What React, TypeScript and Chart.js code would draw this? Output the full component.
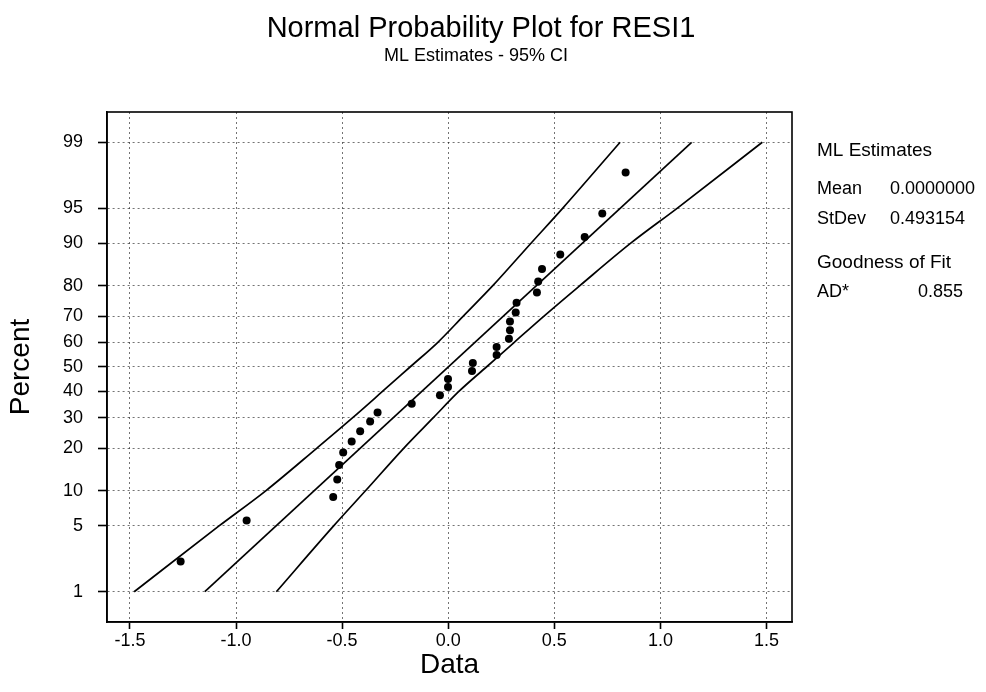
import React, { useEffect, useRef } from 'react';
import { Chart, registerables, Scale } from 'chart.js';

Chart.register(...registerables);

// ---------- data ----------
const PERCENT_TICKS = [1, 5, 10, 20, 30, 40, 50, 60, 70, 80, 90, 95, 99];
const DATA_TICKS = [-1.5, -1.0, -0.5, 0.0, 0.5, 1.0, 1.5];

const RESIDUALS = [
  -1.261, -0.95, -0.542, -0.523, -0.514, -0.495, -0.455, -0.415, -0.368, -0.333,
  -0.172, -0.039, -0.001, -0.001, 0.112, 0.116, 0.228, 0.228, 0.286, 0.291,
  0.291, 0.318, 0.322, 0.418, 0.424, 0.442, 0.528, 0.643, 0.726, 0.836,
];
const PLOT_PERCENT = [
  2.2, 5.6, 8.9, 12.2, 15.5, 18.8, 22.0, 25.3, 28.6, 31.9,
  35.2, 38.5, 41.8, 45.1, 48.4, 51.6, 54.9, 58.2, 61.5, 64.8,
  68.1, 71.4, 74.7, 78.0, 81.2, 84.5, 87.8, 91.1, 94.4, 97.8,
];

const BAND_PERCENT = [1, 5, 10, 20, 30, 40, 50, 60, 70, 80, 90, 95, 99];
const LOWER_CI = [-1.48, -1.08, -0.86, -0.62, -0.45, -0.31, -0.18, -0.05, 0.07, 0.21, 0.39, 0.54, 0.81];
const UPPER_CI = [-0.81, -0.54, -0.39, -0.21, -0.07, 0.05, 0.18, 0.31, 0.45, 0.62, 0.86, 1.08, 1.48];
const FIT_PERCENT = [1, 99];
const FIT_DATA = [-1.147, 1.147];

const TITLE = 'Normal Probability Plot for RESI1';
const SUBTITLE = 'ML Estimates - 95% CI';
const PANEL_HEAD_1 = 'ML Estimates';
const PANEL_LABELS_1 = ['Mean', 'StDev'];
const PANEL_VALUES_1 = ['0.0000000', '0.493154'];
const PANEL_HEAD_2 = 'Goodness of Fit';
const PANEL_LABELS_2 = ['AD*'];
const PANEL_VALUES_2 = ['0.855'];

const FONT = '"Liberation Sans", Arial, Helvetica, sans-serif';

// ---------- normal probability scale ----------
function normInv(pIn: number): number {
  const p = Math.min(Math.max(pIn, 1e-9), 1 - 1e-9);
  const a = [-3.969683028665376e1, 2.209460984245205e2, -2.759285104469687e2, 1.38357751867269e2, -3.066479806614716e1, 2.506628277459239];
  const b = [-5.447609879822406e1, 1.615858368580409e2, -1.556989798598866e2, 6.680131188771972e1, -1.328068155288572e1];
  const c = [-7.784894002430293e-3, -3.223964580411365e-1, -2.400758277161838, -2.549732539343734, 4.374664141464968, 2.938163982698783];
  const d = [7.784695709041462e-3, 3.224671290700398e-1, 2.445134137142996, 3.754408661907416];
  const pl = 0.02425;
  if (p < pl) {
    const q = Math.sqrt(-2 * Math.log(p));
    return (((((c[0] * q + c[1]) * q + c[2]) * q + c[3]) * q + c[4]) * q + c[5]) / ((((d[0] * q + d[1]) * q + d[2]) * q + d[3]) * q + 1);
  }
  if (p > 1 - pl) {
    const q = Math.sqrt(-2 * Math.log(1 - p));
    return -(((((c[0] * q + c[1]) * q + c[2]) * q + c[3]) * q + c[4]) * q + c[5]) / ((((d[0] * q + d[1]) * q + d[2]) * q + d[3]) * q + 1);
  }
  const q = p - 0.5;
  const r = q * q;
  return ((((((a[0] * r + a[1]) * r + a[2]) * r + a[3]) * r + a[4]) * r + a[5]) * q) / (((((b[0] * r + b[1]) * r + b[2]) * r + b[3]) * r + b[4]) * r + 1);
}

function normCdf(z: number): number {
  const t = 1 / (1 + 0.3275911 * Math.abs(z) / Math.SQRT2);
  const y = 1 - (((((1.061405429 * t - 1.453152027) * t) + 1.421413741) * t - 0.284496736) * t + 0.254829592) * t * Math.exp(-(z * z) / 2);
  return z >= 0 ? 0.5 * (1 + y) : 0.5 * (1 - y);
}

class ProbitScale extends (Scale as any) {
  static id = 'probit';
  static defaults = {};
  _zStart = 0;
  _zEnd = 1;
  determineDataLimits() {
    this.min = this.options.min;
    this.max = this.options.max;
  }
  buildTicks() {
    return PERCENT_TICKS.map((v) => ({ value: v }));
  }
  configure() {
    super.configure();
    this._zStart = normInv(this.min / 100);
    this._zEnd = normInv(this.max / 100);
  }
  getLabelForValue(v: number) {
    return String(v);
  }
  getPixelForValue(v: number) {
    if (v === null || v === undefined || isNaN(v)) return NaN;
    const z = normInv(v / 100);
    return this.getPixelForDecimal((z - this._zStart) / (this._zEnd - this._zStart));
  }
  getValueForPixel(px: number) {
    const dec = this.getDecimalForPixel(px);
    return normCdf(this._zStart + dec * (this._zEnd - this._zStart)) * 100;
  }
}
Chart.register(ProbitScale as any);

// ---------- frame and texts ----------
const decorPlugin = {
  id: 'decor',
  afterDraw(chart: any) {
    const { ctx, chartArea: a } = chart;
    ctx.save();
    ctx.strokeStyle = '#000';
    ctx.lineWidth = 1.6;
    ctx.strokeRect(a.left, a.top, a.right - a.left, a.bottom - a.top);

    ctx.fillStyle = '#000';
    ctx.textBaseline = 'alphabetic';
    ctx.textAlign = 'center';
    ctx.font = `29px ${FONT}`;
    ctx.fillText(TITLE, 481, 37);
    ctx.font = `18px ${FONT}`;
    ctx.fillText(SUBTITLE, 476, 61);

    ctx.textAlign = 'left';
    ctx.font = `19px ${FONT}`;
    ctx.fillText(PANEL_HEAD_1, 817, 156);
    ctx.font = `18px ${FONT}`;
    const rows1 = [194, 224];
    PANEL_LABELS_1.forEach((l, i) => {
      ctx.fillText(l, 817, rows1[i]);
      ctx.fillText(PANEL_VALUES_1[i], 890, rows1[i]);
    });
    ctx.font = `19px ${FONT}`;
    ctx.fillText(PANEL_HEAD_2, 817, 268);
    ctx.font = `18px ${FONT}`;
    PANEL_LABELS_2.forEach((l, i) => {
      ctx.fillText(l, 817, 297 + i * 30);
      ctx.fillText(PANEL_VALUES_2[i], 918, 297 + i * 30);
    });
    ctx.restore();
  },
};

export default function App() {
  const ref = useRef<HTMLCanvasElement>(null);

  useEffect(() => {
    Chart.defaults.font.family = FONT;
    const gridCommon = {
      color: 'rgba(0,0,0,0.55)',
      lineWidth: 1,
      tickColor: '#000',
      tickWidth: 1.6,
      tickBorderDash: [],
    };
    const chart = new Chart(ref.current as HTMLCanvasElement, {
      type: 'scatter',
      data: {
        datasets: [
          {
            label: 'RESI1',
            data: RESIDUALS.map((x, i) => ({ x, y: PLOT_PERCENT[i] })),
            pointRadius: 4,
            pointStyle: 'circle',
            backgroundColor: '#000',
            borderColor: '#000',
            borderWidth: 0,
          },
          {
            label: 'Fit',
            data: FIT_DATA.map((x, i) => ({ x, y: FIT_PERCENT[i] })),
            showLine: true,
            pointRadius: 0,
            borderColor: '#000',
            borderWidth: 1.7,
          },
          {
            label: 'Lower CI',
            data: LOWER_CI.map((x, i) => ({ x, y: BAND_PERCENT[i] })),
            showLine: true,
            pointRadius: 0,
            borderColor: '#000',
            borderWidth: 1.7,
            cubicInterpolationMode: 'monotone',
          },
          {
            label: 'Upper CI',
            data: UPPER_CI.map((x, i) => ({ x, y: BAND_PERCENT[i] })),
            showLine: true,
            pointRadius: 0,
            borderColor: '#000',
            borderWidth: 1.7,
            cubicInterpolationMode: 'monotone',
          },
        ],
      } as any,
      options: {
        responsive: false,
        animation: false,
        devicePixelRatio: 1,
        events: [],
        layout: { padding: { top: 112, right: 194, bottom: 0, left: 0 } },
        plugins: {
          legend: { display: false },
          tooltip: { enabled: false },
          title: { display: false },
        },
        scales: {
          x: {
            type: 'linear',
            position: 'bottom',
            bounds: 'data',
            min: -1.608,
            max: 1.62,
            afterBuildTicks: (s: any) => {
              s.ticks = DATA_TICKS.map((v) => ({ value: v }));
            },
            afterFit: (s: any) => {
              s.height = 70;
            },
            ticks: {
              callback: (v: any) => Number(v).toFixed(1),
              font: { size: 18 },
              color: '#000',
              padding: 1,
              maxRotation: 0,
              autoSkip: false,
            },
            grid: { ...gridCommon, tickLength: 7 },
            border: { display: true, color: '#000', width: 1.6, dash: [2, 3] },
            title: { display: true, text: 'Data', font: { size: 28 }, color: '#000', padding: { top: 0, bottom: 10 } },
          },
          y: {
            type: 'probit',
            position: 'left',
            min: 0.415,
            max: 99.585,
            afterFit: (s: any) => {
              s.width = 107;
            },
            ticks: {
              font: { size: 18 },
              color: '#000',
              padding: 15,
              autoSkip: false,
            },
            grid: { ...gridCommon, tickLength: 9 },
            border: { display: true, color: '#000', width: 1.6, dash: [2, 3] },
            title: { display: true, text: 'Percent', font: { size: 28 }, color: '#000', padding: { top: 4, bottom: 0 } },
          },
        } as any,
      },
      plugins: [decorPlugin],
    });
    return () => chart.destroy();
  }, []);

  return (
    <div style={{ position: 'fixed', left: 0, top: 0, width: 986, height: 692, background: '#fff' }}>
      <canvas ref={ref} width={986} height={692} style={{ display: 'block', width: 986, height: 692 }} />
    </div>
  );
}
